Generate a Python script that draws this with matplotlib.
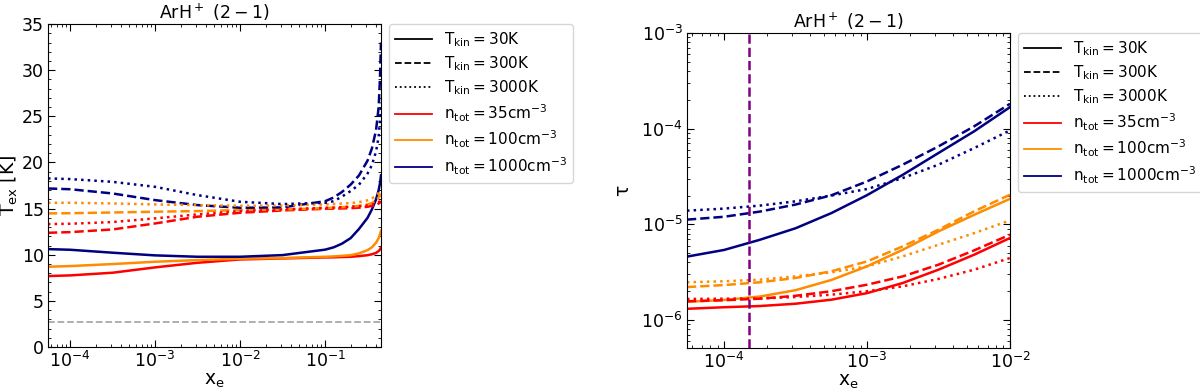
import matplotlib
matplotlib.use('Agg')
import matplotlib.pyplot as plt
from matplotlib.lines import Line2D
from matplotlib.ticker import AutoMinorLocator, LogLocator, NullFormatter

plt.rcParams['mathtext.default'] = 'regular'
plt.rcParams['font.size'] = 12

# ---- left panel: excitation temperature vs electron fraction
x_left = [5.5e-5, 1e-4, 3.16e-4, 1e-3, 3.16e-3, 1e-2, 3.16e-2, 0.1, 0.126, 0.158,
          0.2, 0.251, 0.316, 0.355, 0.398, 0.427, 0.442, 0.455]

tex_30_35 = [7.69, 7.76, 8.05, 8.63, 9.13, 9.49, 9.6, 9.71, 9.72, 9.75,
             9.78, 9.85, 9.95, 10.05, 10.2, 10.4, 10.55, 10.8]
tex_30_100 = [8.7, 8.77, 8.99, 9.24, 9.42, 9.57, 9.64, 9.78, 9.82, 9.88,
              9.95, 10.15, 10.5, 10.8, 11.3, 11.8, 12.2, 12.6]
tex_30_1000 = [10.61, 10.54, 10.22, 9.93, 9.78, 9.78, 9.96, 10.55, 10.8, 11.2,
               11.8, 12.8, 14.0, 14.9, 16.0, 17.0, 17.7, 18.6]
tex_300_35 = [12.38, 12.45, 12.74, 13.39, 14.12, 14.55, 14.8, 14.98, 15.0, 15.02,
              15.05, 15.1, 15.2, 15.3, 15.4, 15.55, 15.65, 15.8]
tex_300_100 = [14.48, 14.5, 14.58, 14.66, 14.73, 14.84, 14.9, 15.05, 15.1, 15.15,
               15.2, 15.3, 15.45, 15.6, 15.9, 16.2, 16.4, 16.6]
tex_300_1000 = [17.18, 17.1, 16.64, 15.92, 15.38, 15.09, 15.13, 15.8, 16.2, 16.8,
                17.6, 18.6, 20.2, 21.5, 23.5, 26.0, 29.0, 33.0]
tex_3000_35 = [13.32, 13.36, 13.54, 13.94, 14.37, 14.73, 14.9, 15.09, 15.1, 15.15,
               15.2, 15.25, 15.35, 15.45, 15.55, 15.7, 15.8, 15.9]
tex_3000_100 = [15.63, 15.63, 15.56, 15.45, 15.38, 15.3, 15.34, 15.45, 15.5, 15.55,
                15.6, 15.7, 15.9, 16.1, 16.4, 16.7, 16.9, 17.1]
tex_3000_1000 = [18.27, 18.2, 17.9, 17.36, 16.46, 15.74, 15.49, 15.63, 15.8, 16.3,
                 16.9, 17.6, 18.8, 19.7, 21.2, 22.8, 24.5, 26.5]

t_cmb = 2.73

# ---- right panel: optical depth vs electron fraction
x_right = [5.5e-5, 1e-4, 1.78e-4, 3.16e-4, 5.62e-4, 1e-3, 1.78e-3, 3.16e-3, 5.62e-3, 1e-2]

tau_30_35 = [1.31e-6, 1.36e-6, 1.40e-6, 1.48e-6, 1.63e-6, 1.91e-6, 2.44e-6, 3.36e-6, 4.82e-6, 7.2e-6]
tau_30_100 = [1.55e-6, 1.62e-6, 1.76e-6, 2.05e-6, 2.62e-6, 3.64e-6, 5.43e-6, 8.45e-6, 1.26e-5, 1.85e-5]
tau_30_1000 = [4.6e-6, 5.4e-6, 6.9e-6, 9.1e-6, 1.31e-5, 2.02e-5, 3.30e-5, 5.57e-5, 9.4e-5, 1.68e-4]
tau_300_35 = [1.57e-6, 1.61e-6, 1.67e-6, 1.79e-6, 2.0e-6, 2.34e-6, 2.86e-6, 3.79e-6, 5.35e-6, 7.8e-6]
tau_300_100 = [2.21e-6, 2.32e-6, 2.48e-6, 2.75e-6, 3.23e-6, 4.1e-6, 5.89e-6, 8.79e-6, 1.37e-5, 2.04e-5]
tau_300_1000 = [1.12e-5, 1.2e-5, 1.36e-5, 1.61e-5, 2.01e-5, 2.81e-5, 4.21e-5, 6.53e-5, 1.06e-4, 1.82e-4]
tau_3000_35 = [1.66e-6, 1.67e-6, 1.68e-6, 1.74e-6, 1.84e-6, 2.0e-6, 2.25e-6, 2.69e-6, 3.36e-6, 4.45e-6]
tau_3000_100 = [2.48e-6, 2.54e-6, 2.64e-6, 2.86e-6, 3.15e-6, 3.64e-6, 4.63e-6, 6.12e-6, 8.1e-6, 1.10e-5]
tau_3000_1000 = [1.39e-5, 1.46e-5, 1.57e-5, 1.74e-5, 2.0e-5, 2.34e-5, 3.05e-5, 4.21e-5, 6.28e-5, 9.6e-5]

x_mark = 1.5e-4

temps = ['30', '300', '3000']
densities = ['35', '100', '1000']
styles = ['-', '--', ':']
colors = ['red', 'darkorange', 'navy']

tex = [[tex_30_35, tex_30_100, tex_30_1000],
       [tex_300_35, tex_300_100, tex_300_1000],
       [tex_3000_35, tex_3000_100, tex_3000_1000]]
tau = [[tau_30_35, tau_30_100, tau_30_1000],
       [tau_300_35, tau_300_100, tau_300_1000],
       [tau_3000_35, tau_3000_100, tau_3000_1000]]


def style_axes(ax):
    ax.tick_params(which='both', direction='in', top=True, right=True,
                   labelsize=12.5, pad=3)
    ax.tick_params(which='major', length=5)
    ax.tick_params(which='minor', length=2.5)
    ax.set_title(r'ArH$^+$ $(2-1)$', fontsize=12.5, pad=4)
    ax.set_xlabel(r'$x_e$', fontsize=13.5, labelpad=0)


def add_legend(ax):
    handles = [Line2D([], [], color='k', ls=s, lw=1.3) for s in styles]
    labels = [r'$T_{kin} = %sK$' % t for t in temps]
    handles += [Line2D([], [], color=c, ls='-', lw=1.3) for c in colors]
    labels += [r'$n_{tot} = %scm^{-3}$' % n for n in densities]
    ax.legend(handles, labels, loc='upper left', bbox_to_anchor=(1.025, 1.0),
              borderaxespad=0, fontsize=11, handlelength=2.4,
              labelspacing=0.35)


fig = plt.figure(figsize=(12, 3.91), dpi=100)
ax1 = fig.add_axes([0.04, 0.1125, 0.2775, 0.826])
ax2 = fig.add_axes([0.5725, 0.11, 0.2692, 0.8056])

for i, s in enumerate(styles):
    for j, c in enumerate(colors):
        ax1.plot(x_left, tex[i][j], color=c, ls=s, lw=1.8)
        ax2.plot(x_right, tau[i][j], color=c, ls=s, lw=1.8)

ax1.axhline(t_cmb, color='darkgray', ls='--', lw=1.3)
ax1.set_xscale('log')
ax1.set_xlim(5.5e-5, 0.455)
ax1.set_ylim(0, 35)
ax1.yaxis.set_minor_locator(AutoMinorLocator(5))
ax1.set_ylabel(r'$T_{ex}$ [K]', fontsize=13.5, labelpad=1)
style_axes(ax1)
add_legend(ax1)

ax2.axvline(x_mark, color='purple', ls='--', lw=1.8)
ax2.set_xscale('log')
ax2.set_yscale('log')
ax2.set_xlim(5.5e-5, 1e-2)
ax2.set_ylim(5.1e-7, 1e-3)
ax2.yaxis.set_minor_locator(LogLocator(subs=range(2, 10)))
ax2.yaxis.set_minor_formatter(NullFormatter())
ax2.set_ylabel(r'$\tau$', fontsize=13.5, labelpad=6)
style_axes(ax2)
add_legend(ax2)

fig.savefig('out.png', dpi=100)
